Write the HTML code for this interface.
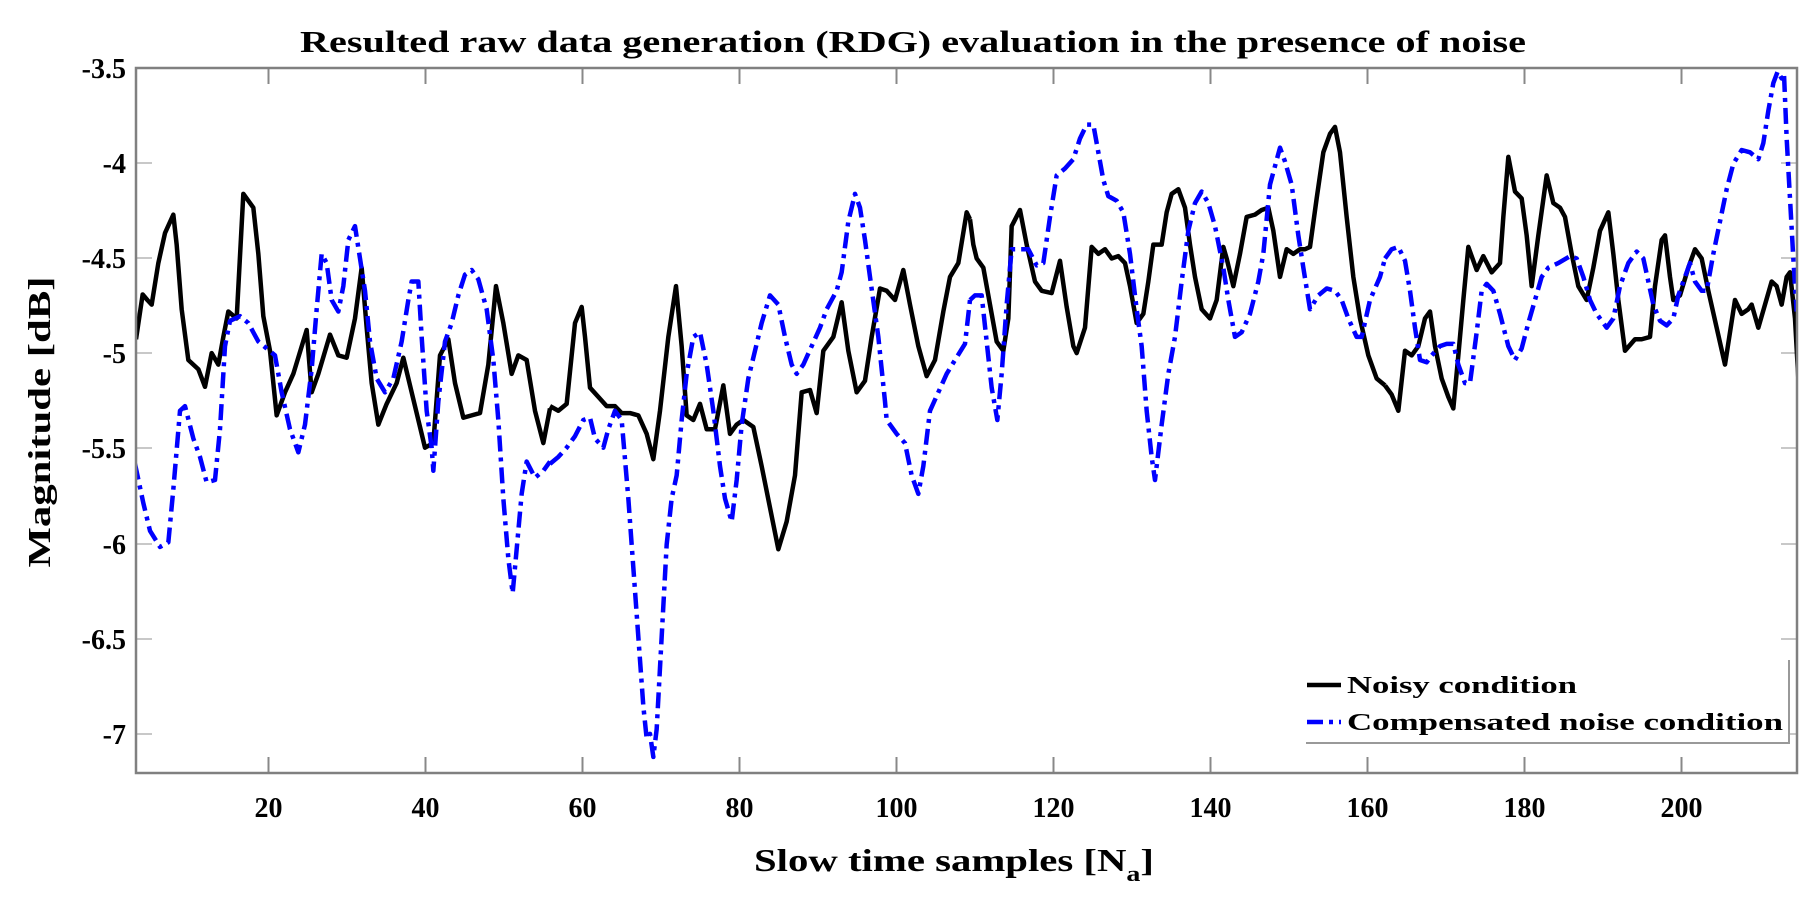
<!DOCTYPE html>
<html><head><meta charset="utf-8"><style>
html,body{margin:0;padding:0;background:#fff;}
svg{display:block;}
text{font-family:"Liberation Serif",serif;font-weight:bold;fill:#000;}
</style></head><body>
<svg width="1817" height="903" viewBox="0 0 1817 903" xmlns="http://www.w3.org/2000/svg">
<defs><clipPath id="c"><rect x="136" y="68" width="1661" height="705"/></clipPath></defs>
<rect width="1817" height="903" fill="#fff"/>
<text x="913" y="52" font-size="31" text-anchor="middle" textLength="1226" lengthAdjust="spacingAndGlyphs">Resulted raw data generation (RDG) evaluation in the presence of noise</text>
<g stroke="#c8c8c8" stroke-width="2">
<line x1="136" y1="163" x2="152" y2="163"/><line x1="136" y1="258" x2="152" y2="258"/><line x1="136" y1="353" x2="152" y2="353"/><line x1="136" y1="448" x2="152" y2="448"/><line x1="136" y1="544" x2="152" y2="544"/><line x1="136" y1="639" x2="152" y2="639"/><line x1="136" y1="734" x2="152" y2="734"/>
<line x1="1781" y1="163" x2="1797" y2="163"/><line x1="1781" y1="258" x2="1797" y2="258"/><line x1="1781" y1="353" x2="1797" y2="353"/><line x1="1781" y1="448" x2="1797" y2="448"/><line x1="1781" y1="544" x2="1797" y2="544"/><line x1="1781" y1="639" x2="1797" y2="639"/><line x1="1781" y1="734" x2="1797" y2="734"/>
</g>
<g stroke="#888" stroke-width="2">
<line x1="268.5" y1="773" x2="268.5" y2="757"/><line x1="425.5" y1="773" x2="425.5" y2="757"/><line x1="582.5" y1="773" x2="582.5" y2="757"/><line x1="739.5" y1="773" x2="739.5" y2="757"/><line x1="896.5" y1="773" x2="896.5" y2="757"/><line x1="1053.5" y1="773" x2="1053.5" y2="757"/><line x1="1210.5" y1="773" x2="1210.5" y2="757"/><line x1="1367.5" y1="773" x2="1367.5" y2="757"/><line x1="1524.5" y1="773" x2="1524.5" y2="757"/><line x1="1681.5" y1="773" x2="1681.5" y2="757"/>
<line x1="268.5" y1="68" x2="268.5" y2="84"/><line x1="425.5" y1="68" x2="425.5" y2="84"/><line x1="582.5" y1="68" x2="582.5" y2="84"/><line x1="739.5" y1="68" x2="739.5" y2="84"/><line x1="896.5" y1="68" x2="896.5" y2="84"/><line x1="1053.5" y1="68" x2="1053.5" y2="84"/><line x1="1210.5" y1="68" x2="1210.5" y2="84"/><line x1="1367.5" y1="68" x2="1367.5" y2="84"/><line x1="1524.5" y1="68" x2="1524.5" y2="84"/><line x1="1681.5" y1="68" x2="1681.5" y2="84"/>
</g>
<g clip-path="url(#c)" fill="none" stroke-linejoin="round">
<g transform="translate(130,60) scale(0.33333,0.46154)">
<polyline vector-effect="non-scaling-stroke" stroke="#000" stroke-width="4.5" points="18,605 38,508 52,520 65,530 85,440 105,375 130,335 140,400 155,540 175,650 205,670 225,708 245,635 265,660 280,600 295,545 320,560 340,290 370,320 385,420 400,555 420,630 440,770 465,720 490,680 530,585 545,720 565,680 600,595 625,640 650,645 675,560 695,450 710,580 725,700 745,790 770,745 800,700 820,645 850,735 885,840 910,830 930,640 955,605 975,700 1000,775 1025,770 1050,765 1075,660 1098,490 1120,570 1145,680 1165,640 1190,650 1215,760 1240,830 1260,755"/>
<polyline vector-effect="non-scaling-stroke" stroke="#0000ff" stroke-width="4.5" stroke-dasharray="16,6,4,6" points="15,875 40,960 60,1020 90,1055 115,1045 130,930 150,760 165,750 190,820 210,860 230,915 255,910 270,800 285,620 300,565 330,555 355,570 385,610 410,625 435,640 455,720 480,800 505,850 525,790 545,670 560,540 575,420 590,440 605,520 625,545 640,490 655,390 675,360 690,430 705,500 720,610 740,690 765,720 790,690 815,610 835,520 845,480 865,480 875,600 890,760 905,840 910,890 925,740 945,610 965,570 985,510 1005,465 1025,455 1045,475 1070,540 1090,650 1105,780 1120,950 1135,1080 1148,1155 1160,1060 1175,940 1190,870 1215,905 1240,890 1260,870"/>
</g>
<g transform="translate(550,60) scale(0.33333,0.46154)">
<polyline vector-effect="non-scaling-stroke" stroke="#000" stroke-width="4.5" points="0,750 25,760 50,745 75,570 95,535 105,600 120,710 145,730 170,750 195,750 215,765 240,765 265,770 290,810 310,865 330,760 355,600 378,490 395,620 410,770 430,780 450,745 470,800 495,800 520,705 540,810 560,790 580,780 610,795 635,880 660,970 685,1060 710,1000 735,900 755,720 780,715 800,765 820,630 850,600 875,525 895,630 920,720 945,695 965,600 990,495 1010,500 1035,520 1060,455 1080,530 1105,620 1130,685 1155,650 1180,545 1200,470 1225,440 1250,330 1260,345"/>
<polyline vector-effect="non-scaling-stroke" stroke="#0000ff" stroke-width="4.5" stroke-dasharray="16,6,4,6" points="0,875 25,860 50,840 75,815 100,780 120,775 135,820 160,840 175,800 195,760 215,780 235,950 250,1100 265,1250 280,1400 290,1470 300,1460 310,1510 320,1450 335,1250 350,1050 365,950 380,900 395,780 410,680 430,600 450,590 470,660 490,760 510,880 525,950 545,1000 560,910 575,790 595,690 615,630 635,570 660,510 685,530 705,600 725,660 740,680 760,660 785,620 810,580 830,540 860,500 875,460 895,350 915,290 930,320 945,390 960,470 985,600 1005,740 1010,780 1040,810 1065,830 1085,900 1105,940 1120,880 1140,760 1165,720 1190,680 1215,650 1245,615 1260,520"/>
</g>
<g transform="translate(970,60) scale(0.33333,0.46154)">
<polyline vector-effect="non-scaling-stroke" stroke="#000" stroke-width="4.5" points="0,345 10,400 20,430 40,450 60,530 80,610 100,630 115,560 125,360 150,325 170,400 195,480 215,500 245,505 270,435 290,535 310,620 320,635 345,580 365,405 385,420 405,410 425,430 445,425 465,440 480,490 500,570 520,550 535,480 550,400 575,400 590,330 605,290 625,280 645,320 660,400 675,470 695,540 720,560 740,520 760,405 770,430 790,490 810,420 830,340 855,335 875,325 895,320 910,370 930,470 950,410 970,420 990,410 1005,410 1020,405 1040,300 1060,200 1080,160 1095,145 1110,200 1130,340 1150,470 1170,560 1195,640 1220,690 1245,705"/>
<polyline vector-effect="non-scaling-stroke" stroke="#0000ff" stroke-width="4.5" stroke-dasharray="16,6,4,6" points="0,520 15,510 35,510 50,610 65,710 82,780 95,680 110,530 125,410 150,410 175,410 200,445 220,440 240,340 260,250 285,235 310,215 330,170 350,140 370,140 385,200 400,260 415,295 440,305 460,330 480,420 500,540 515,620 530,760 545,860 555,910 575,790 595,680 615,600 635,480 655,370 675,310 695,285 715,310 735,360 760,450 775,520 795,600 815,590 840,550 865,480 880,420 900,270 930,190 945,220 965,270 985,380 1000,450 1020,540 1045,510 1070,495 1095,500 1115,520 1135,560 1160,600 1175,600 1200,520 1230,470 1245,430"/>
</g>
<g transform="translate(1385,60) scale(0.33333,0.46154)">
<polyline vector-effect="non-scaling-stroke" stroke="#000" stroke-width="4.5" points="0,705 20,725 40,760 60,630 80,640 100,620 120,560 135,545 150,620 170,690 190,730 205,755 220,640 235,520 250,405 275,455 295,425 320,460 345,440 355,340 370,210 390,285 410,300 425,380 440,490 460,380 485,250 505,310 525,320 540,340 560,420 580,490 605,520 625,450 645,370 670,330 685,420 700,520 720,630 750,605 770,605 795,600 810,490 830,390 840,380 855,470 865,520 885,510 910,450 930,410 950,430 970,500 995,580 1020,660 1035,590 1050,520 1070,550 1090,540 1100,530 1120,580 1140,530 1160,480 1175,490 1190,530 1205,470 1215,460 1230,560 1240,690"/>
<polyline vector-effect="non-scaling-stroke" stroke="#0000ff" stroke-width="4.5" stroke-dasharray="16,6,4,6" points="0,430 20,410 40,405 60,435 75,500 90,580 105,650 125,655 140,640 165,620 185,615 205,615 220,660 240,700 255,700 275,590 290,500 305,485 325,500 345,550 370,620 390,650 410,625 430,570 450,520 470,470 490,450 520,440 555,425 575,430 595,470 615,520 635,550 665,580 685,560 705,490 730,440 755,415 775,430 790,480 805,530 825,565 845,575 865,560 880,510 900,470 915,440 930,480 950,500 965,500 985,420 1005,350 1025,280 1045,225 1070,195 1095,200 1120,215 1135,180 1150,110 1165,50 1178,25 1190,40 1197,30 1205,170 1215,300 1225,430 1235,545"/>
</g>
</g>
<rect x="136" y="68" width="1661" height="705" fill="none" stroke="#808080" stroke-width="2.5"/>
<g font-size="28" text-anchor="end">
<text x="126" y="78">-3.5</text><text x="126" y="173">-4</text><text x="126" y="268">-4.5</text><text x="126" y="363">-5</text><text x="126" y="458">-5.5</text><text x="126" y="554">-6</text><text x="126" y="649">-6.5</text><text x="126" y="744">-7</text>
</g>
<g font-size="28" text-anchor="middle">
<text x="268.5" y="817">20</text><text x="425.5" y="817">40</text><text x="582.5" y="817">60</text><text x="739.5" y="817">80</text><text x="896.5" y="817">100</text><text x="1053.5" y="817">120</text><text x="1210.5" y="817">140</text><text x="1367.5" y="817">160</text><text x="1524.5" y="817">180</text><text x="1681.5" y="817">200</text>
</g>
<text x="754" y="871" font-size="32" textLength="400" lengthAdjust="spacingAndGlyphs">Slow time samples [N<tspan font-size="22" dy="10">a</tspan><tspan dy="-10">]</tspan></text>
<text transform="translate(50,422) rotate(-90)" font-size="32" text-anchor="middle" textLength="291" lengthAdjust="spacingAndGlyphs">Magnitude [dB]</text>
<rect x="1306" y="652" width="483" height="91" fill="#fff" stroke="none"/>
<polyline points="1306,743 1789,743 1789,660" fill="none" stroke="#999" stroke-width="2"/>
<line x1="1307" y1="685" x2="1341" y2="685" stroke="#000" stroke-width="4.5"/>
<line x1="1307" y1="722" x2="1341" y2="722" stroke="#0000ff" stroke-width="4.5" stroke-dasharray="16,6,4,6"/>
<text x="1347" y="693" font-size="24" textLength="230" lengthAdjust="spacingAndGlyphs">Noisy condition</text>
<text x="1347" y="730" font-size="24" textLength="436" lengthAdjust="spacingAndGlyphs">Compensated noise condition</text>
</svg>
</body></html>
